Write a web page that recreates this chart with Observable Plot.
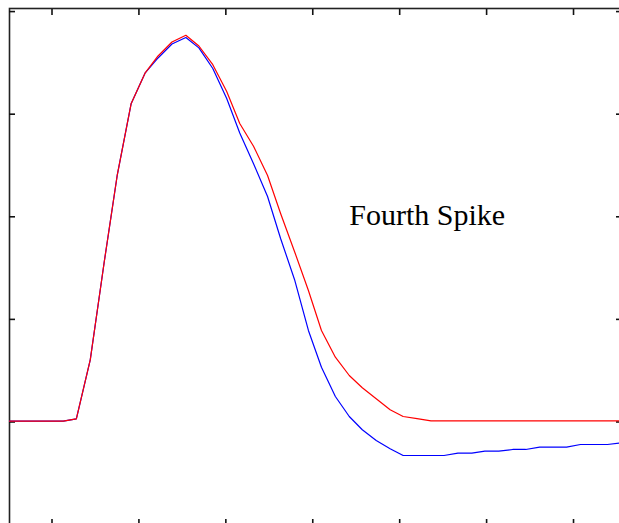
<!DOCTYPE html>
<html>
<head>
<meta charset="utf-8">
<script src="https://cdn.jsdelivr.net/npm/d3@7"></script>
<script src="https://cdn.jsdelivr.net/npm/@observablehq/plot@0.6"></script>
<style>
  html, body { margin: 0; padding: 0; background: white; }
  #wrap { width: 619px; height: 523px; overflow: hidden; position: relative; }
</style>
</head>
<body>
<div id="wrap"></div>
<script>
// time (ms) of each sample
const times = [0.50, 0.66, 0.81, 0.97, 1.13, 1.28, 1.44, 1.60, 1.75, 1.91, 2.07, 2.22, 2.38, 2.54, 2.69, 2.85,
  3.01, 3.16, 3.32, 3.48, 3.63, 3.79, 3.95, 4.10, 4.26, 4.42, 4.57, 4.73, 4.89, 5.04, 5.20, 5.36,
  5.51, 5.67, 5.83, 5.98, 6.14, 6.30, 6.45, 6.61, 6.77, 6.92, 7.08, 7.24, 7.39, 7.55];

// membrane potential (mV), red trace
const redValues = [-59.84, -59.84, -59.84, -59.84, -59.84,
  -59.38, -47.88, -28.91, -11.95, 2.03, 7.99, 11.35, 14.07, 15.38, 13.29, 9.65, 4.42, -1.81, -6.30,
  -11.95, -19.36, -26.76, -34.37, -42.16, -47.37, -50.94, -53.33, -55.48, -57.62, -58.93, -59.36,
  -59.77, -59.77, -59.77, -59.77, -59.77, -59.77, -59.77, -59.77, -59.77, -59.77, -59.77, -59.77,
  -59.77, -59.77, -59.77];

// membrane potential (mV), blue trace
const blueValues = [-59.84, -59.84, -59.84, -59.84, -59.84,
  -59.38, -47.88, -28.91, -11.95, 2.03, 7.99, 10.96, 13.68, 14.95, 12.92, 8.91, 3.06, -3.66, -9.71,
  -16.04, -24.23, -32.22, -42.16, -49.32, -55.03, -58.93, -61.52, -63.61, -65.22, -66.53, -66.53,
  -66.53, -66.53, -66.08, -66.08, -65.69, -65.69, -65.36, -65.36, -64.91, -64.91, -64.91, -64.39,
  -64.39, -64.39, -64.05];

const xTicks = [1, 2, 3, 4, 5, 6, 7];
const yTicks = [-60, -40, -20, 0, 20];

const labelText = ["Fourth Spike"];
const labelX = [4.42];
const labelY = [-21.6];

const tickStyle = {stroke: "#111", strokeWidth: 1.6, fill: "none", label: null};

const chart = Plot.plot({
  width: 619,
  height: 523,
  marginLeft: 9,
  marginTop: 8,
  marginRight: -2,
  marginBottom: -2,
  x: {domain: [0.511, 7.552]},
  y: {domain: [-80.18, 20.6]},
  style: {background: "white"},
  marks: [
    Plot.frame({stroke: "#222", strokeWidth: 1.6}),
    Plot.axisX(xTicks, {anchor: "top", tickSize: -6, ...tickStyle}),
    Plot.axisX(xTicks, {anchor: "bottom", tickSize: -6, ...tickStyle}),
    Plot.axisY(yTicks, {anchor: "left", tickSize: -6, ...tickStyle}),
    Plot.axisY(yTicks, {anchor: "right", tickSize: -6, ...tickStyle}),
    Plot.line(times, {x: times, y: blueValues, stroke: "#0000ff", strokeWidth: 1.2, clip: true}),
    Plot.line(times, {x: times, y: redValues, stroke: "#ff0000", strokeWidth: 1.2, clip: true}),
    Plot.text(labelText, {x: labelX, y: labelY, text: d => d, textAnchor: "start", lineAnchor: "bottom",
      fontFamily: "'Liberation Serif', 'Times New Roman', serif", fontSize: 30, fill: "black"})
  ]
});
document.getElementById("wrap").appendChild(chart);
</script>
</body>
</html>
